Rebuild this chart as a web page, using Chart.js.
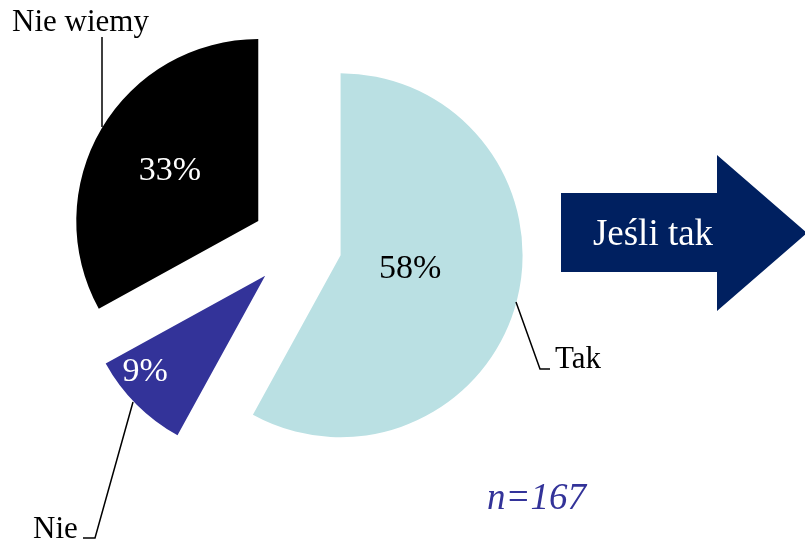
<!DOCTYPE html>
<html>
<head>
<meta charset="utf-8">
<script src="https://cdn.jsdelivr.net/npm/chart.js@4/dist/chart.umd.min.js"></script>
<style>
  body { margin: 0; background: #fff; }
  #wrap { width: 805px; height: 542px; position: relative; }
</style>
</head>
<body>
<div id="wrap"><canvas id="pieChart"></canvas></div>
<script>
// data
var categories = ['Tak', 'Nie', 'Nie wiemy'];
var shares = [58, 9, 33];
var sliceColors = ['#BAE0E3', '#333399', '#000000'];
var valueColors = ['#000000', '#ffffff', '#ffffff'];
var sampleText = 'n=167';
var arrowText = 'Jeśli tak';

var serif = "'Liberation Serif', 'Times New Roman', serif";
var explode = 45;                    // px each slice is pulled out
var labelDist = [0.39, 0.845, 0.558]; // where the % sits inside each slice
var labelTurn = [-2.8, 6.3, -1];      // degrees off the bisector

// pull slices out along their bisector
var explodePlugin = {
    id: 'explode',
    afterDatasetsUpdate: function(chart) {
        chart.getDatasetMeta(0).data.forEach(function(arc) {
            var mid = (arc.startAngle + arc.endAngle) / 2;
            arc.x += Math.cos(mid) * explode;
            arc.y += Math.sin(mid) * explode;
        });
    }
};

var decorPlugin = {
    id: 'decor',
    afterDatasetsDraw: function(chart) {
        var ctx = chart.ctx;
        var arcs = chart.getDatasetMeta(0).data;
        ctx.save();
        ctx.font = '34px ' + serif;
        ctx.textAlign = 'center';
        ctx.textBaseline = 'middle';
        arcs.forEach(function(arc, i) {
            var a = (arc.startAngle + arc.endAngle) / 2 + labelTurn[i] * Math.PI / 180;
            var d = arc.outerRadius * labelDist[i];
            ctx.fillStyle = valueColors[i];
            ctx.fillText(shares[i] + '%', arc.x + Math.cos(a) * d, arc.y + Math.sin(a) * d);
        });

        // leader lines
        ctx.strokeStyle = '#000';
        ctx.lineWidth = 1.5;
        ctx.beginPath();
        ctx.moveTo(102, 37); ctx.lineTo(102, 127);
        ctx.moveTo(516, 302); ctx.lineTo(540, 369); ctx.lineTo(550, 369);
        ctx.moveTo(133, 402); ctx.lineTo(95, 538); ctx.lineTo(83, 538);
        ctx.stroke();

        // category names
        ctx.fillStyle = '#000';
        ctx.font = '31px ' + serif;
        ctx.textAlign = 'left';
        ctx.textBaseline = 'alphabetic';
        ctx.fillText(categories[2], 12, 31);
        ctx.fillText(categories[0], 555, 368);
        ctx.fillText(categories[1], 33, 538);

        // arrow
        ctx.fillStyle = '#002060';
        ctx.beginPath();
        ctx.moveTo(561, 193);
        ctx.lineTo(717, 193);
        ctx.lineTo(717, 155);
        ctx.lineTo(807, 233);
        ctx.lineTo(717, 311);
        ctx.lineTo(717, 272);
        ctx.lineTo(561, 272);
        ctx.closePath();
        ctx.fill();
        ctx.fillStyle = '#ffffff';
        ctx.font = '37px ' + serif;
        ctx.textAlign = 'center';
        ctx.fillText(arrowText, 653, 245);

        // sample size
        ctx.fillStyle = '#333399';
        ctx.font = 'italic 37px ' + serif;
        ctx.textAlign = 'left';
        ctx.fillText(sampleText, 487, 509);
        ctx.restore();
    }
};

var ctx = document.getElementById('pieChart').getContext('2d');
var pieChart = new Chart(ctx, {
    type: 'pie',
    data: {
        labels: categories,
        datasets: [{
            data: shares,
            backgroundColor: sliceColors,
            borderWidth: 0,
            radius: 182
        }]
    },
    options: {
        responsive: true,
        maintainAspectRatio: false,
        animation: false,
        layout: { padding: { left: 4, right: 215, top: 0, bottom: 54 } },
        plugins: {
            legend: { display: false },
            tooltip: { enabled: false }
        }
    },
    plugins: [explodePlugin, decorPlugin]
});
</script>
</body>
</html>
